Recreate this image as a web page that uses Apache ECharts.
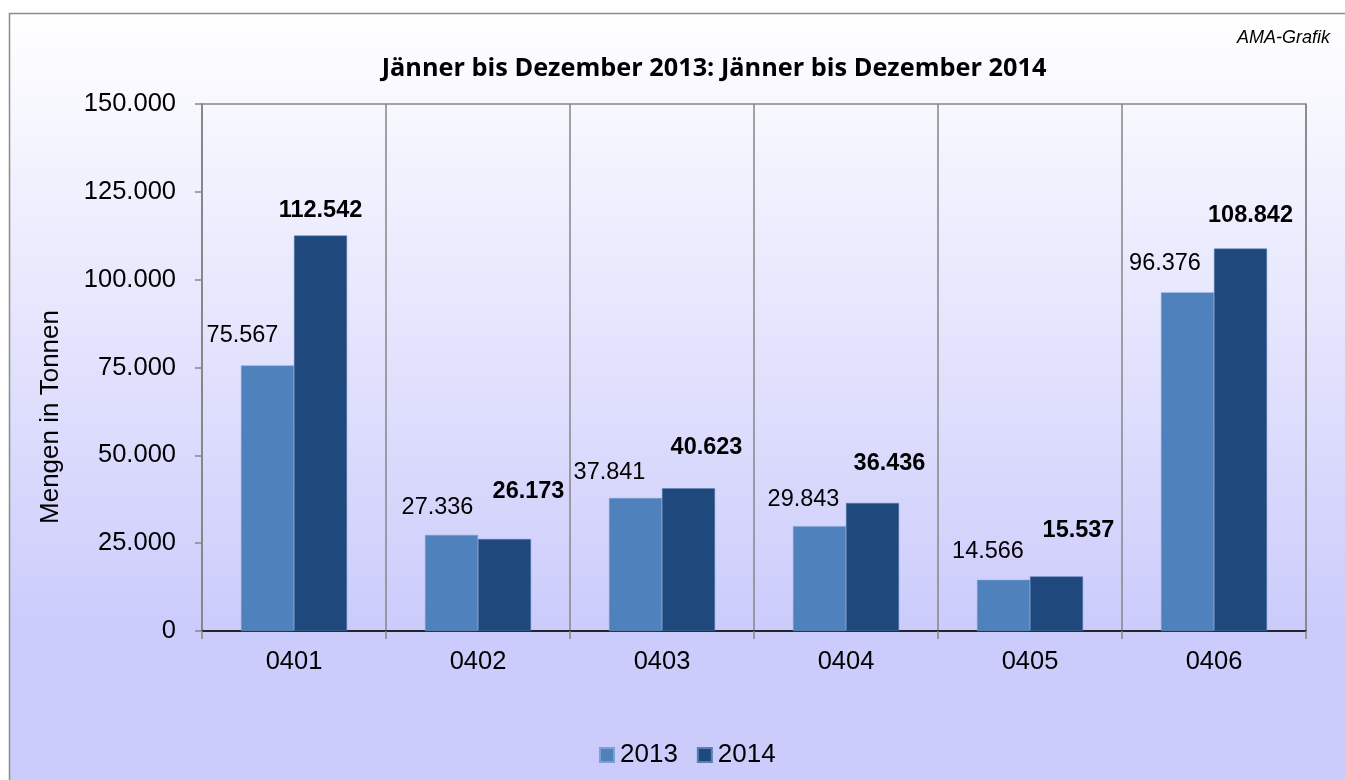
<!DOCTYPE html>
<html>
<head>
<meta charset="utf-8">
<script src="https://cdn.jsdelivr.net/npm/echarts@6/dist/echarts.min.js"></script>
<style>
html,body{margin:0;padding:0;background:#fff;}
#chart{width:1345px;height:780px;}
</style>
</head>
<body>
<div id="chart"></div>
<script>
const categories = ['0401', '0402', '0403', '0404', '0405', '0406'];
const values2013 = [75567, 27336, 37841, 29843, 14566, 96376];
const values2014 = [112542, 26173, 40623, 36436, 15537, 108842];
const seriesNames = ['2013', '2014'];
const yTicks = [0, 25000, 50000, 75000, 100000, 125000, 150000];
const titleText = 'Jänner bis Dezember 2013: Jänner bis Dezember 2014';
const sourceText = 'AMA-Grafik';
const yAxisName = 'Mengen in Tonnen';

function fmt(v) {
  return String(v).replace(/\B(?=(\d{3})+(?!\d))/g, '.');
}

const chart = echarts.init(document.getElementById('chart'), null, {renderer: 'canvas'});
const FONT = '"Liberation Sans", Arial, sans-serif';

// manual label placement (as in the original layout), not data
const LABEL_SHIFT_2013 = [[-25, -17.5], [-14, -15], [-26, -13.5], [-16, -15], [-15.5, -16.5], [-22.5, -16.5]];
const LABEL_SHIFT_2014 = [[0, -13.5], [24, -35.5], [18, -29], [17, -27.5], [22, -33.5], [10, -21.5]];

const data2013 = values2013.map((v, i) => ({value: v, label: {offset: LABEL_SHIFT_2013[i]}}));
const data2014 = values2014.map((v, i) => ({value: v, label: {offset: LABEL_SHIFT_2014[i]}}));

chart.setOption({
  backgroundColor: '#ffffff',
  animation: false,
  title: {
    text: titleText,
    left: 709,
    textAlign: 'center',
    top: 51,
    textStyle: {fontFamily: '"Open Sans", sans-serif', fontWeight: 'bold', fontSize: 25.3, color: '#000'}
  },
  graphic: [
    {
      type: 'rect', z: -10, silent: true,
      shape: {x: 9.5, y: 13.5, width: 1345, height: 780},
      style: {
        fill: new echarts.graphic.LinearGradient(0, 0, 0, 1, [
          {offset: 0, color: '#ffffff'},
          {offset: 0.78, color: '#ccccfc'},
          {offset: 1, color: '#ccccfc'}
        ]),
        stroke: '#8c8c8c', lineWidth: 1.5
      }
    },
    {
      type: 'text', right: 15, top: 29, silent: true,
      style: {text: sourceText, fontFamily: FONT, fontStyle: 'italic', fontSize: 18, fill: '#000'}
    },
    {
      type: 'text', silent: true,
      x: 51, y: 417, rotation: Math.PI / 2,
      style: {text: yAxisName, fontFamily: FONT, fontSize: 26, fill: '#000', align: 'center', verticalAlign: 'middle'}
    }
  ],
  legend: {
    data: seriesNames,
    left: 594, top: 737,
    itemWidth: 14, itemHeight: 14, itemGap: 19,
    icon: 'rect',
    textStyle: {fontFamily: FONT, fontSize: 26, color: '#000', padding: [0, 0, 0, 1]}
  },
  grid: {
    left: 202, top: 104, right: 39, bottom: 149,
    show: true, borderColor: '#868686', borderWidth: 1.5, backgroundColor: 'transparent'
  },
  xAxis: {
    type: 'category',
    data: categories,
    axisLine: {show: true, lineStyle: {color: '#000', width: 1.5}},
    axisTick: {show: true, length: 8, lineStyle: {color: '#868686', width: 1.5}},
    splitLine: {show: true, lineStyle: {color: '#868686', width: 1.5}},
    axisLabel: {fontFamily: FONT, fontSize: 25.5, color: '#000', margin: 18}
  },
  yAxis: {
    type: 'value',
    min: 0, max: 150000, interval: 25000,
    axisLine: {show: true, lineStyle: {color: '#868686', width: 1.5}},
    axisTick: {show: true, length: 7, lineStyle: {color: '#868686', width: 1.5}},
    splitLine: {show: false},
    axisLabel: {
      fontFamily: FONT, fontSize: 25.5, color: '#000', margin: 26,
      formatter: v => (yTicks.indexOf(v) >= 0 ? fmt(v) : '')
    }
  },
  series: [
    {
      name: seriesNames[0], type: 'bar', data: data2013,
      barWidth: 53, barGap: '0%',
      itemStyle: {color: '#4f81bd', borderColor: '#7ea0cf', borderWidth: 0.5},
      label: {
        show: true, position: 'top', distance: 0, lineHeight: 24,
        fontFamily: FONT, fontSize: 23.5, color: '#000',
        formatter: p => fmt(p.value)
      }
    },
    {
      name: seriesNames[1], type: 'bar', data: data2014,
      barWidth: 53,
      itemStyle: {color: '#1f497d', borderColor: '#5b7fae', borderWidth: 0.5},
      label: {
        show: true, position: 'top', distance: 0, lineHeight: 24,
        fontFamily: FONT, fontSize: 23.5, fontWeight: 'bold', color: '#000',
        formatter: p => fmt(p.value)
      }
    }
  ]
});
</script>
</body>
</html>
